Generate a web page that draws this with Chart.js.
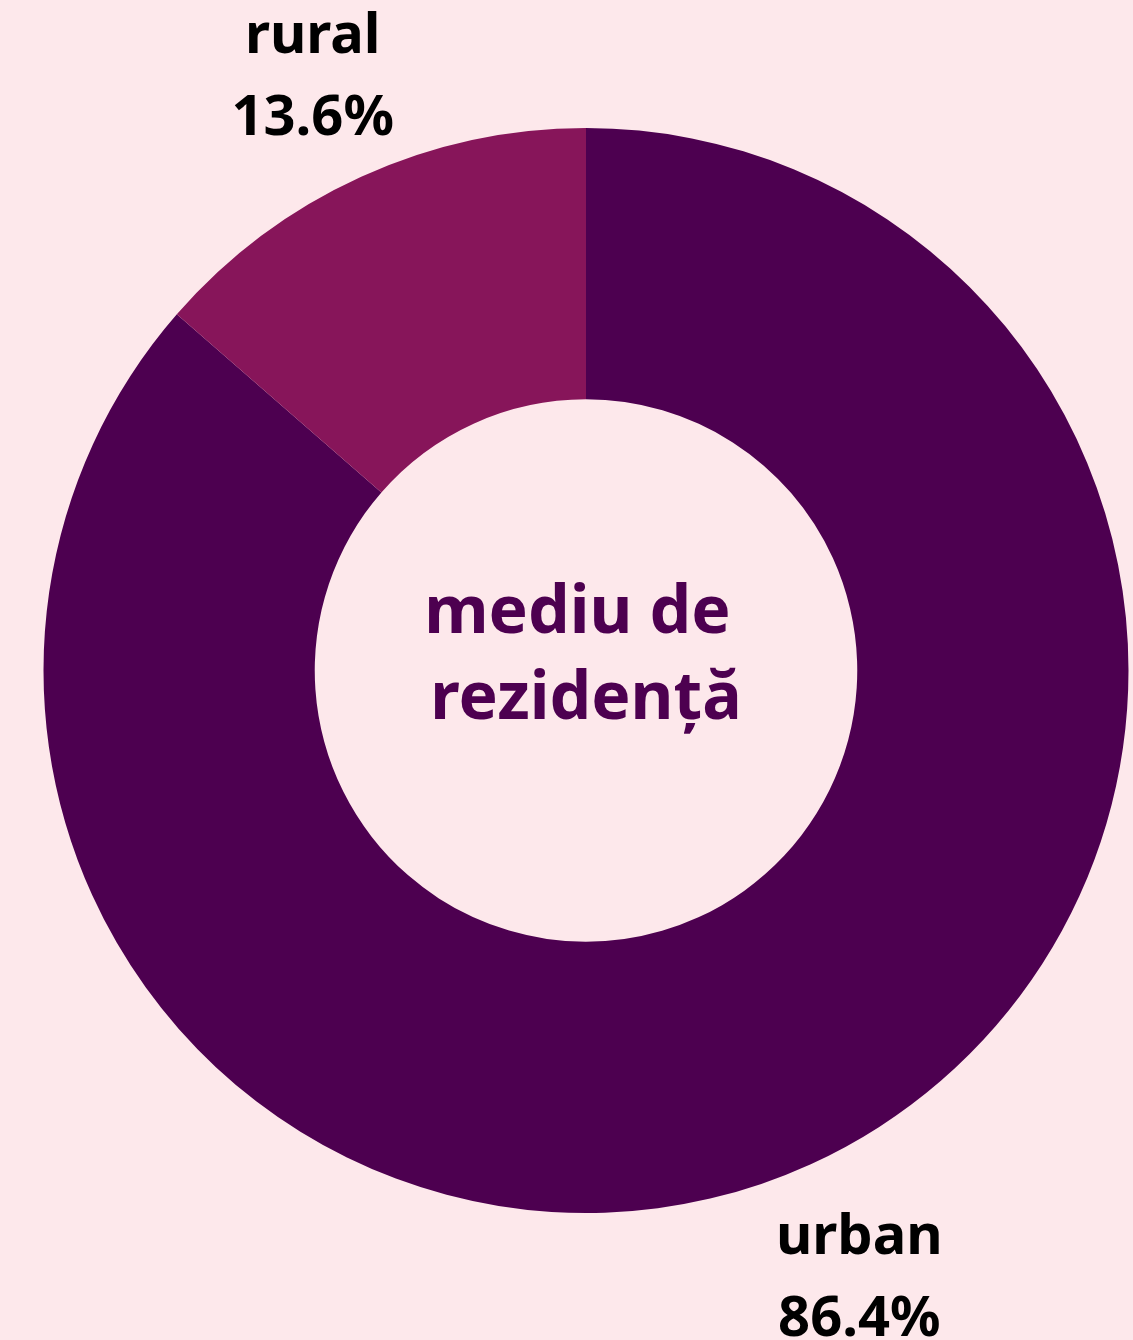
<!DOCTYPE html>
<html>
<head>
<meta charset="utf-8">
<script src="https://cdn.jsdelivr.net/npm/chart.js@4/dist/chart.umd.min.js"></script>
<style>
  html, body { margin: 0; padding: 0; background: #fde8eb; }
  #wrap { width: 1133px; height: 1340px; }
</style>
</head>
<body>
<div id="wrap"><canvas id="residenceChart" width="1133" height="1340"></canvas></div>
<script>
// date
const categories = ['urban', 'rural'];
const shares = [86.4, 13.6];
const sliceColors = ['#4d0050', '#87155a'];
const centerLines = ['mediu de ', 'rezidență'];

// etichete in jurul inelului + titlul din mijloc
const labelsPlugin = {
    id: 'ringLabels',
    afterDraw(chart) {
        const ctx = chart.ctx;
        const meta = chart.getDatasetMeta(0);
        ctx.save();
        ctx.textAlign = 'center';
        ctx.textBaseline = 'alphabetic';
        meta.data.forEach((arc, i) => {
            const mid = (arc.startAngle + arc.endAngle) / 2;
            const r = arc.outerRadius + 117;
            const x = arc.x + Math.cos(mid) * r;
            const y = arc.y + Math.sin(mid) * r + 24;
            ctx.fillStyle = '#000';
            ctx.font = 'bold 56px "Noto Sans"';
            ctx.fillText(categories[i], x, y - 41);
            ctx.fillText(shares[i].toFixed(1) + '%', x, y + 41);
        });
        const arc0 = meta.data[0];
        ctx.fillStyle = '#4d0050';
        ctx.font = 'bold 66px "Noto Sans"';
        ctx.fillText(centerLines[0], arc0.x, arc0.y - 38);
        ctx.fillText(centerLines[1], arc0.x, arc0.y + 48);
        ctx.restore();
    }
};

new Chart(document.getElementById('residenceChart').getContext('2d'), {
    type: 'doughnut',
    data: {
        labels: categories,
        datasets: [{
            data: shares,
            backgroundColor: sliceColors,
            borderWidth: 0
        }]
    },
    options: {
        responsive: false,
        animation: false,
        cutout: '50%',
        layout: { padding: { left: 43, right: 4, top: 128, bottom: 127 } },
        plugins: {
            legend: { display: false },
            tooltip: { enabled: false }
        }
    },
    plugins: [labelsPlugin]
});
</script>
</body>
</html>
